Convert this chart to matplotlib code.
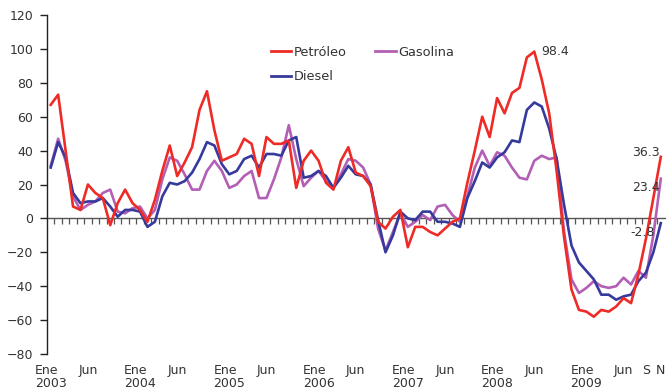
import matplotlib
matplotlib.use("Agg")
import matplotlib.pyplot as plt
import numpy as np

# Monthly data, Jan 2003 - Nov 2009 (variación % anual)
petroleo = [67, 73, 40, 7, 5, 20, 15, 12, -4, 9, 17, 9,
            5, -2, 11, 28, 43, 25, 33, 42, 64, 75, 52, 34,
            36, 38, 47, 44, 25, 48, 44, 44, 46, 18, 34, 40,
            34, 21, 17, 34, 42, 27, 25, 19, -2, -6, 1, 5,
            -17, -5, -5, -8, -10, -6, -2, 0, 21, 40, 60, 48,
            71, 62, 74, 77, 95, 98.4, 82, 62, 28, -11, -42, -54,
            -55, -58, -54, -55, -52, -47, -50, -33, -12, 12, 36.3]
gasolina = [31, 47, 34, 13, 5, 8, 10, 15, 17, 4, 3, 6,
            7, 0, 5, 23, 36, 34, 26, 17, 17, 28, 34, 28,
            18, 20, 25, 28, 12, 12, 23, 36, 55, 35, 19, 24,
            28, 22, 18, 26, 35, 34, 30, 20, -6, -19, -8, 3,
            -5, -2, 2, -1, 7, 8, 2, -2, 13, 30, 40, 31,
            39, 37, 30, 24, 23, 34, 37, 35, 36, -8, -36, -44,
            -41, -37, -40, -41, -40, -35, -39, -31, -35, -10, 23.4]
diesel = [30, 45, 36, 15, 9, 10, 10, 12, 7, 1, 5, 5,
          4, -5, -2, 13, 21, 20, 22, 27, 35, 45, 43, 32,
          26, 28, 35, 37, 30, 38, 38, 37, 46, 48, 24, 25,
          28, 25, 18, 24, 31, 26, 25, 20, -1, -20, -10, 4,
          0, -1, 4, 4, -2, -2, -3, -5, 12, 22, 33, 30,
          36, 39, 46, 45, 64, 68.4, 66, 53, 35, 8, -16, -26,
          -31, -36, -45, -45, -48, -46, -45, -37, -32, -20, -2.8]

tick_positions = [0, 5, 12, 17, 24, 29, 36, 41, 48, 53, 60, 65, 72, 77, 80, 82]
tick_labels = ["Ene\n2003", "Jun", "Ene\n2004", "Jun", "Ene\n2005", "Jun",
               "Ene\n2006", "Jun", "Ene\n2007", "Jun", "Ene\n2008", "Jun",
               "Ene\n2009", "Jun", "S", "N"]
yticks = [-80, -60, -40, -20, 0, 20, 40, 60, 80, 100, 120]

end_labels = [("98.4", 65, 98.4, (5, 0), "left"),
              ("36.3", 82, 36.3, (-1, 3), "right"),
              ("23.4", 82, 23.4, (-1, -6), "right"),
              ("-2.8", 82, -2.8, (-4, -7), "right")]

RED = "#EE2B26"
PURPLE = "#B25FB5"
BLUE = "#363A9C"
TXT = "#333333"

plt.rcParams['font.family'] = ['DejaVu Sans']

fig = plt.figure(figsize=(6.66, 3.91), dpi=100)
ax = fig.add_axes([47/666, 1 - 354/391, 617.5/666, 339/391])

x = np.arange(len(petroleo))
lw = 1.9
ax.plot(x, petroleo, color=RED, lw=lw, label="Petróleo", solid_joinstyle='round', zorder=3)
ax.plot(x, diesel, color=BLUE, lw=lw, label="Diesel", solid_joinstyle='round', zorder=2.5)
ax.plot(x, gasolina, color=PURPLE, lw=lw, label="Gasolina", solid_joinstyle='round', zorder=2)

ax.set_xlim(-0.5, 82.5)
ax.set_ylim(-80, 120)

# spines
for s in ['top', 'right']:
    ax.spines[s].set_visible(False)
ax.spines['left'].set_color('#222222')
ax.spines['left'].set_linewidth(1.0)
ax.spines['bottom'].set_position(('data', 0))
ax.spines['bottom'].set_color('#555555')
ax.spines['bottom'].set_linewidth(1.0)
ax.spines['bottom'].set_zorder(1)

ax.set_yticks(yticks)
ax.tick_params(axis='y', direction='out', length=5, width=1.0, color='#222222',
               labelsize=9, labelcolor=TXT, pad=5)

# monthly tick marks on zero line, no labels
ax.set_xticks(np.arange(0.5, 82, 1))
ax.set_xticklabels([])
ax.tick_params(axis='x', direction='out', length=4, width=0.9, color='#555555')

# labels below the plot
trans = matplotlib.transforms.blended_transform_factory(ax.transData, ax.transAxes)
for p, lab in zip(tick_positions, tick_labels):
    ax.text(p, -0.03, lab, transform=trans, ha='center', va='top',
            multialignment='left', fontsize=9, color=TXT, linespacing=1.0)

for txt, xi, yv, off, ha in end_labels:
    ax.annotate(txt, xy=(xi, yv), xytext=off, textcoords='offset points',
                ha=ha, va='center', fontsize=9, color=TXT)

leg = ax.legend(loc='upper left', bbox_to_anchor=(0.362, 0.91), ncol=2,
                frameon=False, fontsize=9.3, handlelength=1.6, handletextpad=0.2,
                columnspacing=2.2, labelspacing=0.9, borderaxespad=0, borderpad=0)
for t in leg.get_texts():
    t.set_color(TXT)
for h in leg.legend_handles:
    h.set_linewidth(2.0)

fig.savefig("out.png", dpi=100)
